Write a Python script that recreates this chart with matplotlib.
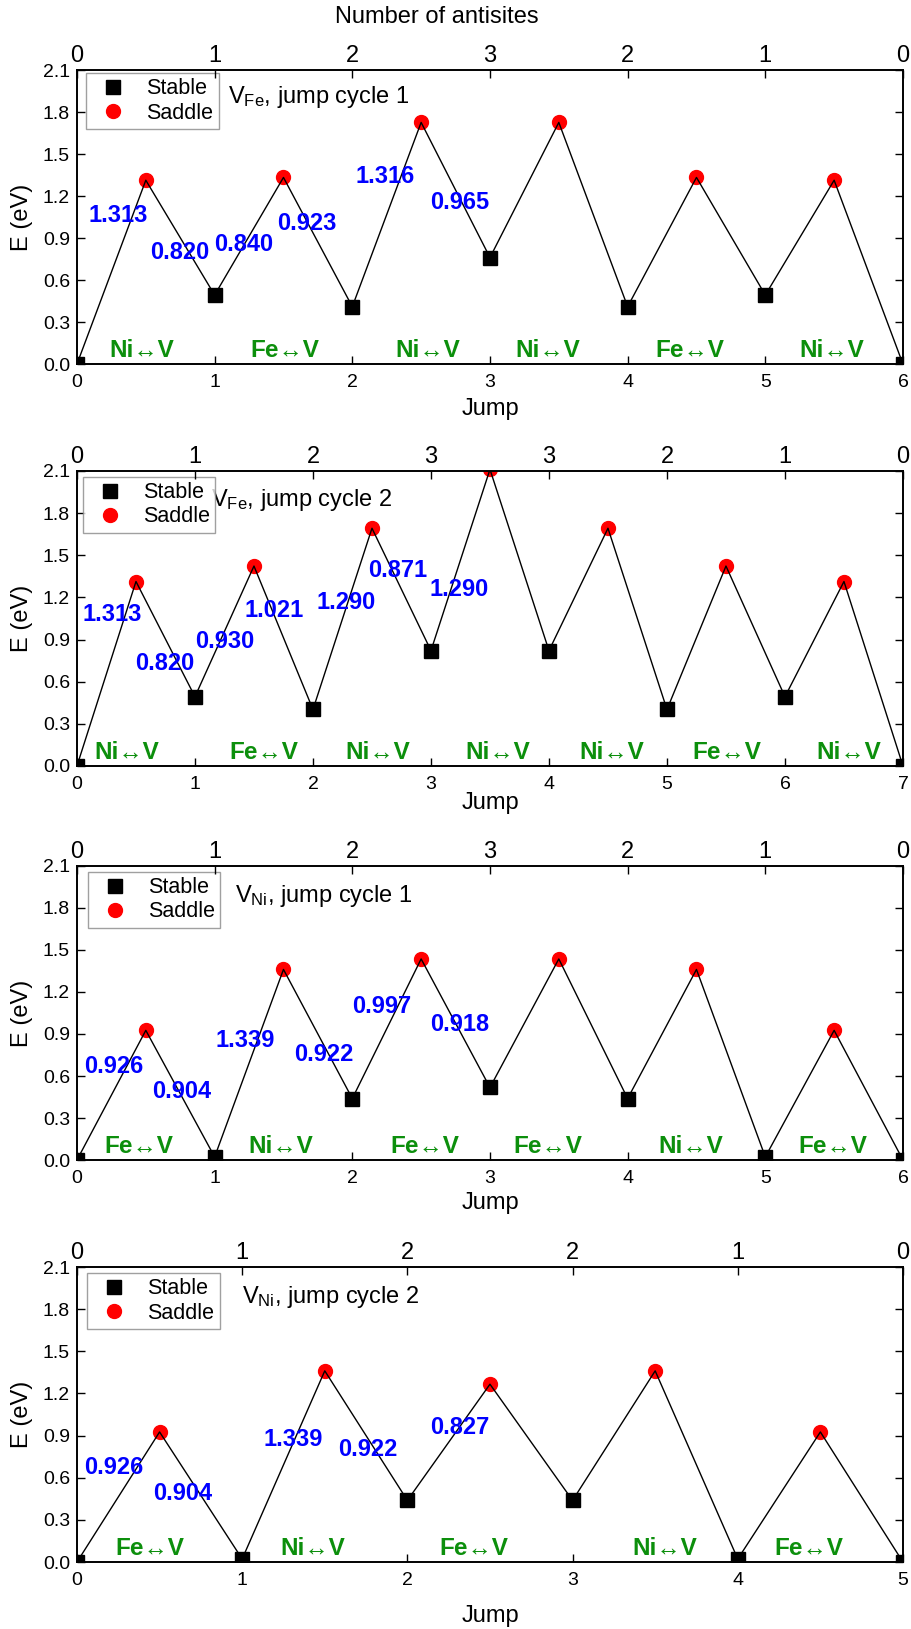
import numpy as np
import matplotlib
matplotlib.use('Agg')
import matplotlib.pyplot as plt

plt.rcParams['font.family'] = ['Liberation Sans', 'DejaVu Sans']
plt.rcParams['mathtext.fontset'] = 'custom'
plt.rcParams['mathtext.rm'] = 'Liberation Sans'
plt.rcParams['mathtext.it'] = 'Liberation Sans:italic'
plt.rcParams['mathtext.bf'] = 'Liberation Sans:bold'

# energies along the path: stable (integer jumps) and saddle (half jumps), eV
fe1_stable = [0.0, 0.493, 0.410, 0.761, 0.410, 0.493, 0.0]
fe1_saddle = [1.313, 1.333, 1.726, 1.726, 1.333, 1.313]
fe1_antisites = [0, 1, 2, 3, 2, 1, 0]
fe1_swaps = ['Ni', 'Fe', 'Ni', 'Ni', 'Fe', 'Ni']
fe1_barriers = ['1.313', '0.820', '0.840', '0.923', '1.316', '0.965']

fe2_stable = [0.0, 0.493, 0.402, 0.821, 0.821, 0.402, 0.493, 0.0]
fe2_saddle = [1.313, 1.423, 1.692, 2.111, 1.692, 1.423, 1.313]
fe2_antisites = [0, 1, 2, 3, 3, 2, 1, 0]
fe2_swaps = ['Ni', 'Fe', 'Ni', 'Ni', 'Ni', 'Fe', 'Ni']
fe2_barriers = ['1.313', '0.820', '0.930', '1.021', '1.290', '0.871', '1.290']

ni1_stable = [0.0, 0.022, 0.439, 0.518, 0.439, 0.022, 0.0]
ni1_saddle = [0.926, 1.361, 1.436, 1.436, 1.361, 0.926]
ni1_antisites = [0, 1, 2, 3, 2, 1, 0]
ni1_swaps = ['Fe', 'Ni', 'Fe', 'Fe', 'Ni', 'Fe']
ni1_barriers = ['0.926', '0.904', '1.339', '0.922', '0.997', '0.918']

ni2_stable = [0.0, 0.022, 0.439, 0.439, 0.022, 0.0]
ni2_saddle = [0.926, 1.361, 1.266, 1.361, 0.926]
ni2_antisites = [0, 1, 2, 2, 1, 0]
ni2_swaps = ['Fe', 'Ni', 'Fe', 'Ni', 'Fe']
ni2_barriers = ['0.926', '0.904', '1.339', '0.922', '0.827']

titles = [r'V$_{\mathrm{Fe}}$, jump cycle 1', r'V$_{\mathrm{Fe}}$, jump cycle 2',
          r'V$_{\mathrm{Ni}}$, jump cycle 1', r'V$_{\mathrm{Ni}}$, jump cycle 2']

# where the annotations sit (data coords)
barrier_pos = [
    [(0.30, 1.064), (0.75, 0.80), (1.21, 0.857), (1.67, 1.007), (2.24, 1.343), (2.78, 1.157)],
    [(0.30, 1.075), (0.74, 0.726), (1.25, 0.883), (1.67, 1.11), (2.28, 1.16), (2.72, 1.388), (3.24, 1.253)],
    [(0.27, 0.671), (0.76, 0.486), (1.22, 0.857), (1.79, 0.757), (2.21, 1.093), (2.78, 0.971)],
    [(0.22, 0.676), (0.64, 0.49), (1.31, 0.875), (1.76, 0.80), (2.32, 0.96)],
]
swap_x = [
    [0.47, 1.51, 2.55, 3.42, 4.45, 5.48],
    [0.42, 1.58, 2.55, 3.57, 4.53, 5.51, 6.54],
    [0.45, 1.48, 2.53, 3.42, 4.46, 5.49],
    [0.44, 1.43, 2.40, 3.56, 4.43],
]
title_pos = [(1.10, 1.91), (1.14, 1.89), (1.15, 1.886), (1.00, 1.886)]
legend_anchor = [(0.011, 0.990), (0.007, 0.980), (0.013, 0.980), (0.012, 0.980)]
jump_label_y = [-0.153, -0.125, -0.146, -0.183]
rects = [[0.0844, 0.7765, 0.9057, 0.1805],
         [0.0844, 0.5298, 0.9057, 0.1811],
         [0.0844, 0.2879, 0.9057, 0.1805],
         [0.0844, 0.0411, 0.9057, 0.1811]]

panels = [
    (fe1_stable, fe1_saddle, fe1_antisites, fe1_swaps, fe1_barriers),
    (fe2_stable, fe2_saddle, fe2_antisites, fe2_swaps, fe2_barriers),
    (ni1_stable, ni1_saddle, ni1_antisites, ni1_swaps, ni1_barriers),
    (ni2_stable, ni2_saddle, ni2_antisites, ni2_swaps, ni2_barriers),
]

blue = '#0000ff'
green = '#0c8f0c'

fig = plt.figure(figsize=(9.12, 16.29), dpi=100)

for i, (stable, saddle, antisites, swaps, barriers) in enumerate(panels):
    ax = fig.add_axes(rects[i])
    n = len(stable) - 1
    xs = np.arange(n + 1)
    xsad = np.arange(n) + 0.5

    # path through all points in order
    xpath = np.empty(2 * n + 1)
    ypath = np.empty(2 * n + 1)
    xpath[0::2] = xs
    xpath[1::2] = xsad
    ypath[0::2] = stable
    ypath[1::2] = saddle

    ax.plot(xs, stable, ls='none', marker='s', ms=9.5, color='k', label='Stable', zorder=2)
    ax.plot(xsad, saddle, ls='none', marker='o', ms=10, color='#ff0000', label='Saddle', zorder=2)
    ax.plot(xpath, ypath, color='k', lw=1.0, zorder=3)

    for k, lab in enumerate(barriers):
        bx, by = barrier_pos[i][k]
        ax.text(bx, by, lab, color=blue, fontsize=17, fontweight='bold',
                ha='center', va='center', zorder=4)
    for k, sw in enumerate(swaps):
        ax.text(swap_x[i][k], 0.05, sw + '\u2194V', color=green, fontsize=17.5,
                fontweight='bold', ha='center', va='baseline', zorder=4)

    tx, ty = title_pos[i]
    ax.text(tx, ty, titles[i], fontsize=17, ha='left', va='center')

    ax.set_xlim(0, n)
    ax.set_ylim(0, 2.1)
    ax.set_yticks(np.arange(0, 2.11, 0.3))
    ax.set_yticklabels(['%.1f' % v for v in np.arange(0, 2.11, 0.3)])
    ax.set_xticks(xs)
    ax.tick_params(axis='y', direction='in', length=6, width=1, labelsize=14, pad=5, right=True)
    ax.tick_params(axis='x', direction='in', length=6, width=1, labelsize=14, pad=7, top=False)
    for sp in ax.spines.values():
        sp.set_linewidth(1.2)

    ax.set_ylabel('E (eV)', fontsize=17)
    ax.yaxis.label.set_va('center')
    ax.yaxis.set_label_coords(-0.067, 0.5)
    ax.set_xlabel('Jump', fontsize=17)
    ax.xaxis.label.set_va('center')
    ax.xaxis.set_label_coords(0.5, jump_label_y[i])

    leg = ax.legend(loc='upper left', bbox_to_anchor=legend_anchor[i], borderaxespad=0,
                    fontsize=15.5, frameon=True, fancybox=False, borderpad=0.25,
                    labelspacing=0.15, handlelength=2.0, handletextpad=0.55)
    leg.get_frame().set_edgecolor('#888888')
    leg.get_frame().set_linewidth(1.0)
    leg.set_zorder(5)

    ax2 = ax.twiny()
    ax2.set_xlim(0, n)
    ax2.set_xticks(xs)
    ax2.set_xticklabels([str(a) for a in antisites])
    ax2.tick_params(axis='x', direction='in', length=6, width=1, labelsize=17, pad=2)
    for sp in ax2.spines.values():
        sp.set_linewidth(1.2)

fig.text(437 / 912, 1 - 17 / 1629, 'Number of antisites', fontsize=17, ha='center', va='center')

plt.savefig('out.png', dpi=100)
